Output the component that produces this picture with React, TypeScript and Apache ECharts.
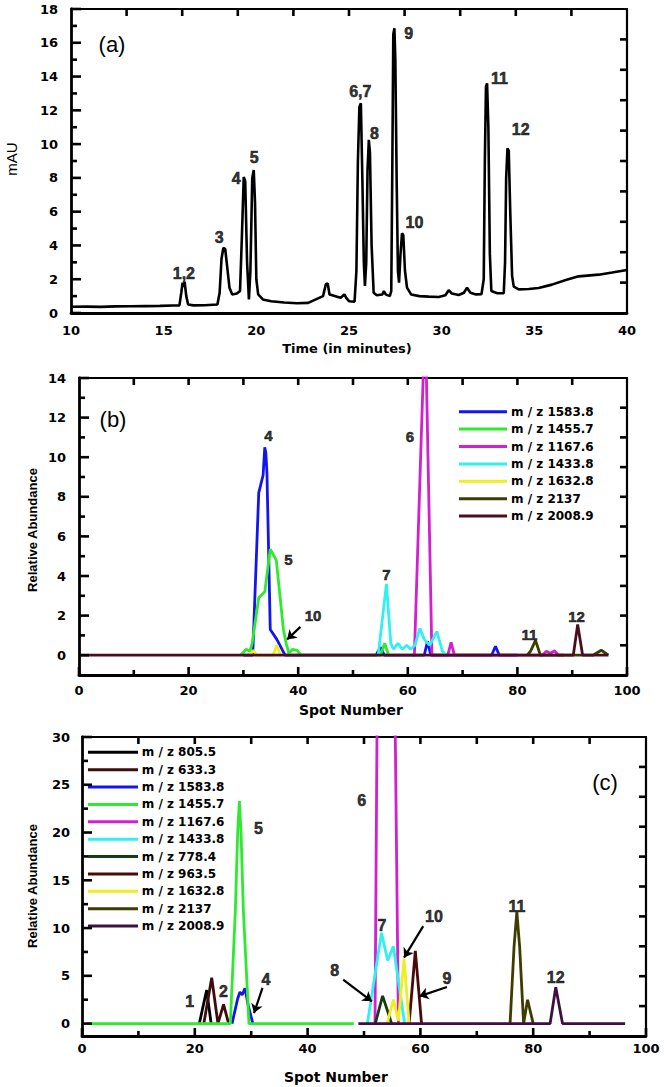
import React, { useEffect, useRef } from "react";
import * as echarts from "echarts";

// ---------------- Panel (a): chromatogram (time in minutes, mAU) ----------------
const chromatogram: number[][] = [
  [10.0, 0.37], [10.8, 0.38], [11.6, 0.36], [12.4, 0.39], [13.2, 0.4], [14.0, 0.41], [14.8, 0.42], [15.5, 0.44],
  [15.85, 0.45], [15.95, 1.2], [16.02, 1.8], [16.08, 1.55], [16.13, 1.85], [16.22, 1.0], [16.32, 0.5], [16.6, 0.45],
  [17.2, 0.46], [17.9, 0.5], [18.02, 1.2], [18.12, 3.2], [18.22, 3.85], [18.32, 3.8], [18.42, 2.8], [18.55, 1.5],
  [18.7, 1.1], [18.95, 1.15], [19.12, 1.3], [19.22, 4.5], [19.32, 8.05], [19.4, 7.8], [19.5, 3.0], [19.6, 0.8],
  [19.68, 2.5], [19.78, 8.0], [19.86, 8.47], [19.93, 6.5], [20.0, 2.0], [20.1, 1.1], [20.35, 0.8], [20.8, 0.7],
  [21.5, 0.62], [22.2, 0.58], [22.8, 0.6], [23.3, 0.85], [23.6, 1.0], [23.75, 1.7], [23.85, 1.75], [23.95, 1.1],
  [24.1, 1.05], [24.4, 0.95], [24.55, 0.9], [24.75, 1.1], [24.85, 0.9], [25.0, 0.7], [25.3, 0.67], [25.4, 2.5],
  [25.48, 9.0], [25.56, 12.2], [25.64, 12.42], [25.72, 8.0], [25.8, 3.0], [25.86, 1.6], [25.93, 3.0], [26.0, 8.5],
  [26.07, 10.25], [26.13, 9.5], [26.22, 4.0], [26.33, 1.2], [26.5, 1.05], [26.8, 1.1], [26.88, 1.3], [26.98, 1.1],
  [27.2, 1.0], [27.28, 1.3], [27.34, 9.0], [27.39, 16.5], [27.45, 16.86], [27.5, 15.0], [27.57, 8.0], [27.64, 2.5],
  [27.7, 1.8], [27.78, 3.5], [27.86, 4.72], [27.93, 4.6], [28.02, 2.5], [28.13, 1.5], [28.35, 1.1], [28.8, 1.0],
  [29.3, 0.97], [29.84, 0.95], [30.2, 1.05], [30.38, 1.35], [30.55, 1.15], [30.92, 1.07], [31.2, 1.2], [31.37, 1.5],
  [31.55, 1.2], [31.85, 1.1], [32.15, 1.12], [32.27, 2.0], [32.33, 9.0], [32.39, 13.4], [32.45, 13.6], [32.52, 11.0],
  [32.6, 3.5], [32.68, 1.3], [33.0, 1.17], [33.35, 1.17], [33.42, 3.0], [33.48, 8.0], [33.55, 9.75], [33.62, 9.6],
  [33.7, 6.0], [33.8, 2.2], [33.89, 1.56], [34.16, 1.4], [34.7, 1.42], [35.23, 1.48], [35.95, 1.68], [36.7, 1.95],
  [37.39, 2.17], [38.47, 2.27], [39.2, 2.4], [40.0, 2.55],
];
const peakLabelsA: (number | string)[][] = [
  [16.09, 2.35, "1,2"], [17.99, 4.49, "3"], [18.91, 7.95, "4"], [19.88, 9.2, "5"], [25.61, 13.1, "6,7"],
  [26.37, 10.64, "8"], [28.22, 16.53, "9"], [28.53, 5.33, "10"], [33.12, 13.9, "11"], [34.26, 10.88, "12"],
];
const xLabelsA = [10, 15, 20, 25, 30, 35, 40];
const yLabelsA = [0, 2, 4, 6, 8, 10, 12, 14, 16, 18];
const yMinorA = [1, 3, 5, 7, 9, 11, 13, 15, 17];
const topTicksA = [13, 16, 19, 22, 25, 28, 31, 34, 37];
const rightTicksA = [1.8, 3.6, 5.4, 7.2, 9, 10.8, 12.6, 14.4, 16.2];

// ---------------- Panel (b): spot number vs relative abundance ----------------
const namesB = ["m / z 1583.8", "m / z 1455.7", "m / z 1167.6", "m / z 1433.8", "m / z 1632.8", "m / z 2137", "m / z 2008.9"];
const colorsB = ["#1414f0", "#2eea2e", "#d21fd2", "#30f0f0", "#eeee22", "#3d3d00", "#4a0f1e"];
const b1583: number[][] = [[30, 0], [31.7, 0], [32.8, 8.2], [33.6, 9.1], [33.9, 10.5], [34.1, 10.2], [34.3, 9.2], [34.9, 1.3], [36.1, 0.8], [37.6, 0], [54.2, 0], [55.0, 0.4], [55.7, 0], [63.0, 0], [63.6, 0.7], [64.2, 0], [75.3, 0], [76.0, 0.45], [76.7, 0], [80, 0]];
const b1455: number[][] = [[29.5, 0], [30.5, 0.3], [31.2, 0.2], [31.6, 0.6], [32.8, 2.9], [33.9, 3.2], [34.9, 5.35], [36.0, 4.8], [37.3, 1.3], [37.8, 0.6], [38.3, 0.1], [39.0, 0.3], [39.8, 0.25], [40.5, 0], [55.0, 0], [55.8, 0.6], [56.5, 0]];
const b1167: number[][] = [[60.8, 0], [61.2, 0], [62.8, 14], [63.15, 17.2], [63.4, 14], [64.4, 0], [67.3, 0], [67.9, 0.65], [68.5, 0], [84.5, 0], [85.3, 0.2], [86.0, 0.1], [86.8, 0.22], [87.5, 0], [88.5, 0]];
const b1433: number[][] = [[54.6, 0], [56.1, 3.6], [56.9, 0.6], [57.4, 0.3], [58.2, 0.6], [59.0, 0.3], [59.8, 0.5], [60.5, 0.3], [61.3, 0.5], [62.2, 1.35], [63.0, 0.8], [64.0, 0.5], [65.3, 1.2], [66.3, 0.2], [67.0, 0]];
const b1632: number[][] = [[31.2, 0], [31.8, 0.25], [32.4, 0], [35.4, 0], [36.1, 0.5], [36.8, 0]];
const b2137: number[][] = [[81.8, 0], [82.4, 0.2], [83.3, 0.75], [84.2, 0], [93.8, 0], [95.3, 0.25], [96.6, 0]];
const b2008: number[][] = [[0.3, 0], [90.2, 0], [91.0, 1.55], [91.9, 0], [96.6, 0]];
const seriesB = [b1583, b1455, b1167, b1433, b1632, b2137, b2008];
const peakLabelsB: (number | string)[][] = [
  [34.55, 11.1, "4"], [38.2, 4.84, "5"], [42.7, 2.0, "10"], [56.1, 4.06, "7"], [60.4, 11.06, "6"], [82.2, 1.06, "11"], [90.8, 1.93, "12"],
];
const arrowsB: number[][] = [[40.4, 1.43, 37.97, 0.79]];
const xLabelsBC = [0, 20, 40, 60, 80, 100];
const xMinorBC = [10, 30, 50, 70, 90];
const topTicksBC = [10, 20, 30, 40, 50, 60, 70, 80, 90];
const yLabelsB = [0, 2, 4, 6, 8, 10, 12, 14];
const yMinorB = [1, 3, 5, 7, 9, 11, 13];
const rightTicksB = [0.5, 2, 3.5, 5, 6.5, 8, 9.5, 11, 12.5];

// ---------------- Panel (c) ----------------
const namesC = ["m / z 805.5", "m / z 633.3", "m / z 1583.8", "m / z 1455.7", "m / z 1167.6", "m / z 1433.8", "m / z 778.4", "m / z 963.5", "m / z 1632.8", "m / z 2137", "m / z 2008.9"];
const colorsC = ["#000000", "#3d0d0d", "#1414f0", "#2eea2e", "#d21fd2", "#30f0f0", "#143d14", "#4a0a0a", "#eeee22", "#3d3d00", "#3d1040"];
const c805: number[][] = [[20.8, 0], [22.1, 3.5], [22.9, 0]];
const c633: number[][] = [[21.6, 0], [23.0, 4.8], [24.1, 0], [25.1, 2.0], [26.0, 0]];
const c1583: number[][] = [[26.6, 0], [27.6, 2.6], [28.0, 3.3], [28.4, 3.0], [28.9, 3.7], [29.5, 1.8], [30.3, 0]];
const c1455: number[][] = [[0.9, 0], [26.3, 0], [27.2, 12], [27.6, 20], [27.9, 23.3], [28.2, 20], [28.6, 12], [29.6, 0], [48.2, 0]];
const c1167: number[][] = [[51.95, 0], [52.65, 60], [53.8, 95], [55.0, 60], [56.1, 0]];
const c1433: number[][] = [[50.6, 0], [53.1, 9.5], [54.2, 6.6], [55.2, 8.1], [57.2, 0]];
const c778: number[][] = [[52.0, 0], [53.3, 2.9], [54.9, 0]];
const c963: number[][] = [[58.0, 0], [59.1, 7.6], [60.2, 0]];
const c1632: number[][] = [[54.1, 0], [55.2, 2.5], [56.1, 0.3], [57.1, 6.8], [58.0, 0]];
const c2137: number[][] = [[75.9, 0], [76.6, 8], [77.1, 11.7], [77.6, 8], [78.3, 0], [79.0, 2.5], [80.0, 0]];
const c2008: number[][] = [[49, 0], [83.0, 0], [84.0, 3.8], [85.2, 0], [96.3, 0]];
const seriesC = [c805, c633, c1583, c1455, c1167, c1433, c778, c963, c1632, c2137, c2008];
const peakLabelsC: (number | string)[][] = [
  [19.1, 2.33, "1"], [25.1, 3.38, "2"], [32.6, 4.6, "4"], [31.3, 20.4, "5"], [49.6, 23.4, "6"], [53.2, 10.3, "7"],
  [44.8, 5.57, "8"], [64.7, 4.67, "9"], [62.4, 11.2, "10"], [77.1, 12.3, "11"], [84.0, 4.84, "12"],
];
const arrowsC: number[][] = [[32.0, 3.73, 30.5, 1.1], [46.3, 4.6, 51.4, 2.33], [64.7, 3.83, 59.8, 2.85], [60.5, 10.2, 57.1, 6.9]];
const yLabelsC = [0, 5, 10, 15, 20, 25, 30];
const yMinorC = [2.5, 7.5, 12.5, 17.5, 22.5, 27.5];
const rightTicksC = [1.83, 4.96, 8.09, 11.22, 14.35, 17.48, 20.61, 23.74, 26.87];

// ---------------- helpers ----------------
const NUM_FONT = "DejaVu Sans";
const LBL_FONT = "Liberation Sans";

const line = (w: number) => ({ show: true, onZero: false, lineStyle: { color: "#000", width: w } });
const labels = (vals: number[], margin: number) => ({
  show: true, customValues: vals, margin, color: "#000", fontSize: 13, fontWeight: "bold", fontFamily: NUM_FONT,
});
const off = () => ({ show: false });

function panelAxes(g: number, xr: number[], yr: number[], p: any) {
  const xb = () => ({ gridIndex: g, type: "value", min: xr[0], max: xr[1], splitLine: off(), axisLabel: off(), axisTick: off() });
  const yb = () => ({ gridIndex: g, type: "value", min: yr[0], max: yr[1], splitLine: off(), axisLabel: off(), axisTick: off() });
  return {
    xAxes: [
      { ...xb(), position: "bottom", axisLine: line(2.8), axisLabel: labels(p.xLabels, p.xMargin) },
      { ...xb(), position: "top", axisLine: line(2.2) },
    ],
    yAxes: [
      { ...yb(), position: "left", axisLine: line(2.8), axisLabel: labels(p.yLabels, p.yMargin) },
      { ...yb(), position: "right", axisLine: line(2.2) },
    ],
  };
}

// tick specs per panel: [dataX, dataY, dx(px), dy(px)]
function tickRows(xr: number[], yr: number[], p: any) {
  const rows: number[][] = [];
  p.yMajor.forEach((v: number) => rows.push([xr[0], v, 10, 0]));
  p.yMinor.forEach((v: number) => rows.push([xr[0], v, 6, 0]));
  p.yRight.forEach((v: number) => rows.push([xr[1], v, -7, 0]));
  p.xTop.forEach((v: number) => rows.push([v, yr[1], 0, 7]));
  (p.xMajor || []).forEach((v: number) => rows.push([v, yr[0], 0, -8]));
  (p.xMinor || []).forEach((v: number) => rows.push([v, yr[0], 0, -5]));
  return rows;
}

function labelSeries(xi: number, yi: number, data: (number | string)[][], size: number, arrows: number[][]) {
  return {
    type: "scatter", xAxisIndex: xi, yAxisIndex: yi, silent: true, symbolSize: 0,
    itemStyle: { color: "#000" }, z: 10,
    data,
    label: {
      show: true, position: "inside", formatter: (p: any) => p.value[2],
      color: "#000", fontSize: size, fontWeight: "bold", fontFamily: LBL_FONT,
      textBorderColor: "#000", textBorderWidth: 0.6,
    },
    markLine: arrows.length ? {
      silent: true, symbol: ["none", "arrow"], symbolSize: 9, animation: false,
      lineStyle: { color: "#000", width: 2.2, type: "solid" }, label: { show: false },
      data: arrows.map((a) => [{ coord: [a[0], a[1]] }, { coord: [a[2], a[3]] }]),
    } : undefined,
  };
}

function legendGraphics(names: string[], colors: string[], x1: number, x2: number, xt: number, y0: number, dy: number) {
  const out: any[] = [];
  names.forEach((n, i) => {
    const y = y0 + i * dy;
    out.push({ type: "line", shape: { x1, y1: y, x2, y2: y }, style: { stroke: colors[i], lineWidth: 3 } });
    out.push({ type: "text", x: xt, y, style: { text: n, fill: "#000", fontSize: 12, fontWeight: "bold", fontFamily: NUM_FONT, align: "left", verticalAlign: "middle" } });
  });
  return out;
}

const txt = (text: string, x: number, y: number, size: number, weight: string, family: string, rot = 0) => ({
  type: "text", x, y, rotation: rot,
  style: { text, fill: "#000", fontSize: size, fontWeight: weight, fontFamily: family, align: "center", verticalAlign: "middle" },
});

export default function App() {
  const ref = useRef<HTMLDivElement>(null);
  useEffect(() => {
    if (!ref.current) return;
    const chart = echarts.init(ref.current, undefined, { renderer: "svg" });

    const rA = { x: [10, 40], y: [0, 18] };
    const rB = { x: [0, 100], y: [-1, 14] };
    const rC = { x: [0, 100], y: [-1.3, 30] };
    const A = panelAxes(0, rA.x, rA.y, { xLabels: xLabelsA, xMargin: 11, yLabels: yLabelsA, yMargin: 13 });
    const B = panelAxes(1, rB.x, rB.y, { xLabels: xLabelsBC, xMargin: 9, yLabels: yLabelsB, yMargin: 13 });
    const C = panelAxes(2, rC.x, rC.y, { xLabels: xLabelsBC, xMargin: 6, yLabels: yLabelsC, yMargin: 12 });

    const series: any[] = [];
    series.push({ type: "line", xAxisIndex: 0, yAxisIndex: 0, data: chromatogram, showSymbol: false, symbol: "none", lineStyle: { color: "#000", width: 2.6 }, silent: true });
    seriesB.forEach((d, i) => series.push({ type: "line", name: namesB[i], xAxisIndex: 2, yAxisIndex: 2, data: d, showSymbol: false, symbol: "none", lineStyle: { color: colorsB[i], width: 2.8 }, silent: true }));
    seriesC.forEach((d, i) => series.push({ type: "line", name: namesC[i], xAxisIndex: 4, yAxisIndex: 4, data: d, showSymbol: false, symbol: "none", lineStyle: { color: colorsC[i], width: 2.8 }, silent: true }));
    series.push(labelSeries(0, 0, peakLabelsA, 16, []));
    series.push(labelSeries(2, 2, peakLabelsB, 15, arrowsB));
    series.push(labelSeries(4, 4, peakLabelsC, 16, arrowsC));

    const graphic: any[] = [
      txt("(a)", 112, 44, 22, "normal", LBL_FONT),
      txt("(b)", 113, 419, 22, "normal", LBL_FONT),
      txt("(c)", 605, 782, 22, "normal", LBL_FONT),
      txt("Time (in minutes)", 347, 348, 13, "bold", NUM_FONT),
      txt("Spot Number", 351, 710, 14, "bold", NUM_FONT),
      txt("Spot Number", 336, 1077, 14, "bold", NUM_FONT),
      txt("mAU", 11, 159, 15, "normal", LBL_FONT, Math.PI / 2),
      txt("Relative Abundance", 32, 530, 13, "bold", LBL_FONT, Math.PI / 2),
      txt("Relative Abundance", 32, 886, 13, "bold", LBL_FONT, Math.PI / 2),
      ...legendGraphics(namesB, colorsB, 459, 507, 511, 411.7, 17.4),
      ...legendGraphics(namesC, colorsC, 88, 138, 141.7, 752.3, 17.37),
    ];

    chart.setOption({
      animation: false,
      backgroundColor: "#fff",
      grid: [
        { left: 71, top: 9, width: 556, height: 304 },
        { left: 79, top: 378, width: 548, height: 297 },
        { left: 82, top: 737, width: 564, height: 299 },
      ],
      xAxis: [...A.xAxes, ...B.xAxes, ...C.xAxes],
      yAxis: [...A.yAxes, ...B.yAxes, ...C.yAxes],
      series,
      graphic,
    });

    // inward tick marks, placed through the grids' own scales
    const panels = [
      { g: 0, rows: tickRows(rA.x, rA.y, { yMajor: yLabelsA, yMinor: yMinorA, yRight: rightTicksA, xTop: topTicksA }) },
      { g: 1, rows: tickRows(rB.x, rB.y, { yMajor: yLabelsB, yMinor: yMinorB, yRight: rightTicksB, xTop: topTicksBC, xMajor: xLabelsBC, xMinor: xMinorBC }) },
      { g: 2, rows: tickRows(rC.x, rC.y, { yMajor: yLabelsC, yMinor: yMinorC, yRight: rightTicksC, xTop: topTicksBC, xMajor: xLabelsBC, xMinor: xMinorBC }) },
    ];
    const tickEls: any[] = [];
    panels.forEach(({ g, rows }) => {
      rows.forEach((r) => {
        const pt = chart.convertToPixel({ gridIndex: g } as any, [r[0], r[1]]) as any;
        if (!pt || isNaN(pt[0]) || isNaN(pt[1])) return;
        tickEls.push({ type: "line", z: 50, shape: { x1: pt[0], y1: pt[1], x2: pt[0] + r[2], y2: pt[1] + r[3] }, style: { stroke: "#000", lineWidth: 2.6 } });
      });
    });
    chart.setOption({ graphic: [...graphic, ...tickEls] });

    return () => chart.dispose();
  }, []);
  return <div ref={ref} style={{ position: "absolute", left: 0, top: 0, width: 664, height: 1087, background: "#fff" }} />;
}
